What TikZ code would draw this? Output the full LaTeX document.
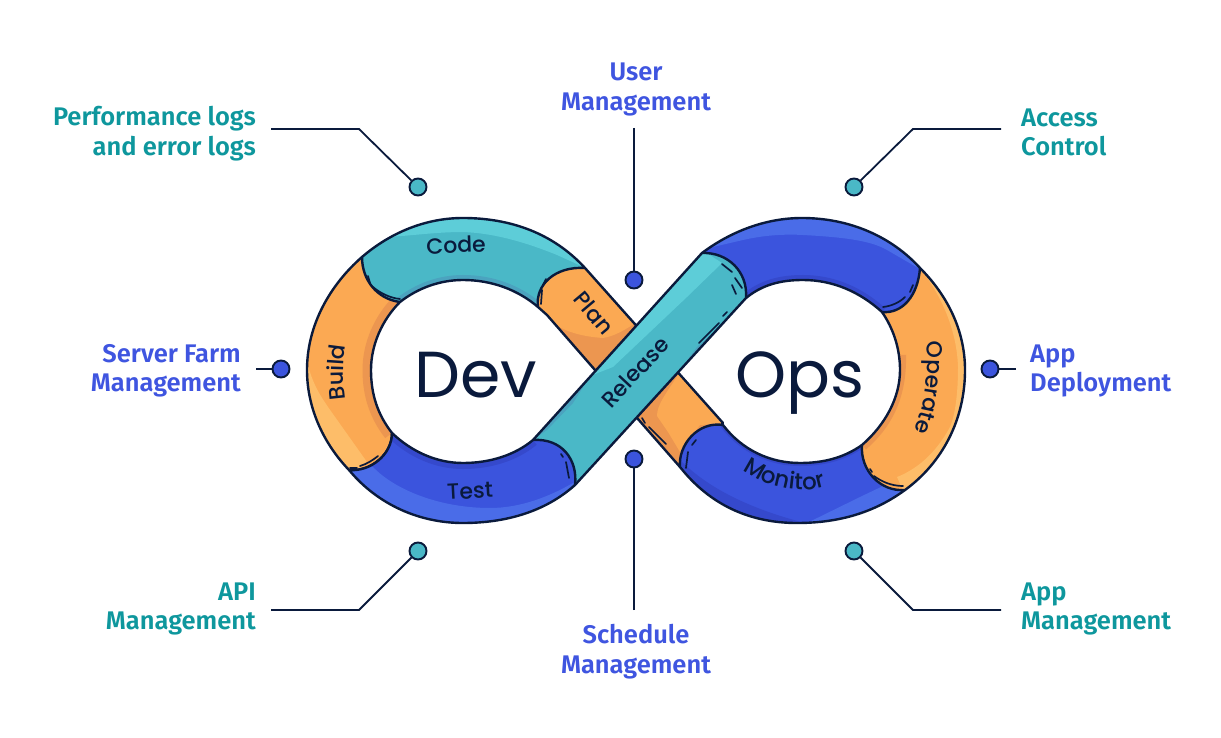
\documentclass[tikz,border=0pt]{standalone}
\usepackage{fontspec}
\usetikzlibrary{decorations.text}
\newfontfamily\labelfont{Fira Sans SemiBold}
\newfontfamily\innerfont{Poppins Medium}
\newfontfamily\bigfont{Poppins}
\definecolor{inkdark}{HTML}{0A1A3C}
\definecolor{labelteal}{HTML}{0E979D}
\definecolor{labelblue}{HTML}{3F55E0}
\definecolor{tealbase}{HTML}{4AB8C7}
\definecolor{teallight}{HTML}{5DCDD8}
\definecolor{tealdark}{HTML}{4BA3BF}
\definecolor{orangebase}{HTML}{FBA953}
\definecolor{orangelight}{HTML}{FDBD69}
\definecolor{orangedark}{HTML}{EC9650}
\definecolor{bluebase}{HTML}{3B54DD}
\definecolor{bluelight}{HTML}{4A6CE8}
\definecolor{bluedark}{HTML}{3549CC}
\newcommand{\codeinner}{(538,307) .. controls (518,290) and (492,280) .. (463,280) .. controls (440,280) and (418,288) .. (400,302)}
\newcommand{\codeseg}{(362,257) .. controls (390,233) and (425,218) .. (463,218) .. controls (510,218) and (553,233) .. (585,268) -- (538,307) .. controls (518,290) and (492,280) .. (463,280) .. controls (440,280) and (418,288) .. (400,302) .. controls (377,299) and (362,280) .. (362,257) -- cycle}
\newcommand{\buildseg}{(362,257) .. controls (330,285) and (307,325) .. (307,370) .. controls (307,410) and (325,445) .. (349,470) .. controls (370,472) and (392,455) .. (392,433) .. controls (378,415) and (371,395) .. (371,370) .. controls (371,345) and (382,320) .. (400,302) -- cycle}
\newcommand{\testseg}{(349,470) .. controls (370,472) and (392,455) .. (392,433) .. controls (412,452) and (437,463) .. (463,463) .. controls (490,463) and (515,455) .. (533,440) .. controls (562,438) and (578,460) .. (575,485) .. controls (545,512) and (505,523) .. (463,523) .. controls (420,523) and (378,505) .. (349,470) -- cycle}
\newcommand{\planseg}{(538,307) .. controls (535,285) and (555,266) .. (585,268) -- (723,423) -- (680,467) -- (595,370) -- (547,315) -- cycle}
\newcommand{\releaseseg}{(702,253) .. controls (728,252) and (748,272) .. (746,298) -- (575,485) -- (533,440) -- cycle}
\newcommand{\monitorseg}{(680,467) .. controls (678,445) and (698,421) .. (723,425) .. controls (742,450) and (770,463) .. (800,463) .. controls (825,463) and (845,457) .. (862,445) -- (905,490) .. controls (875,512) and (840,523) .. (797,523) .. controls (750,523) and (710,505) .. (680,467) -- cycle}
\newcommand{\operateseg}{(862,445) .. controls (860,470) and (880,492) .. (905,490) .. controls (942,463) and (965,420) .. (965,370) .. controls (965,330) and (947,295) .. (920,268) -- (882,312) .. controls (893,328) and (900,348) .. (900,370) .. controls (900,398) and (885,425) .. (862,445) -- cycle}
\newcommand{\opsseg}{(702,253) .. controls (730,232) and (765,218) .. (802,218) .. controls (850,218) and (892,237) .. (920,268) .. controls (918,295) and (903,314) .. (882,312) .. controls (860,292) and (833,280) .. (803,280) .. controls (780,280) and (762,285) .. (746,298) -- cycle}
\begin{document}
\begin{tikzpicture}[x=1pt,y=-1pt,
    outline/.style={draw=inkdark,line width=2.4pt,line join=round},
    mark line/.style={draw=inkdark,line width=1.7pt,line cap=round},
    leader/.style={draw=inkdark,line width=1.8pt},
    teal dot/.style={circle,draw=inkdark,line width=1.9pt,fill=tealbase,minimum size=17pt,inner sep=0pt},
    blue dot/.style={circle,draw=inkdark,line width=1.9pt,fill=bluebase,minimum size=17pt,inner sep=0pt},
    teal label/.style={text=labelteal,inner sep=0pt,font=\labelfont\fontsize{25.5}{29.5}\selectfont},
    blue label/.style={text=labelblue,inner sep=0pt,font=\labelfont\fontsize{25.5}{29.5}\selectfont},
    seg label/.style={text=inkdark,inner sep=0pt,font=\innerfont\fontsize{22}{24}\selectfont},
    big label/.style={text=inkdark,anchor=base,inner sep=0pt,font=\bigfont\fontsize{65}{70}\selectfont}]
    \useasboundingbox (0,0) rectangle (1221,738);

    \begin{scope}
        \clip \buildseg;
        \fill[orangebase] (290,240) rectangle (410,490);
        \draw[orangedark,line width=17pt] (400,302) .. controls (382,320) and (371,345) .. (371,370) .. controls (371,395) and (378,415) .. (392,433);
        \fill[orangelight] (307,362) .. controls (313,385) and (320,395) .. (328,407) -- (367,462) -- (345,480) -- (295,420) -- cycle;
    \end{scope}
    \draw[outline] \buildseg;
    \begin{scope}
        \clip \codeseg;
        \fill[tealbase] (350,210) rectangle (600,320);
        \fill[teallight] (386,237) .. controls (410,236) and (435,232) .. (463,232) .. controls (490,233) and (520,240) .. (557,255) -- (590,270) -- (590,210) -- (386,210) -- cycle;
        \draw[tealdark,line width=10pt] \codeinner;
    \end{scope}
    \draw[outline] \codeseg;
    \begin{scope}
        \clip \planseg;
        \fill[orangedark] (530,260) rectangle (730,470);
        \fill[orangebase] (530,307) .. controls (550,320) and (560,335) .. (603,338) .. controls (615,336) and (625,330) .. (640,320) -- (590,260) -- (530,260) -- cycle;
        \fill[orangebase] (680,372) -- (730,423) -- (700,425) -- (680,452) -- (668,432) -- (657,416) .. controls (657,405) and (665,395) .. (680,372) -- cycle;
    \end{scope}
    \draw[outline] \planseg;
    \begin{scope}
        \clip \monitorseg;
        \fill[bluebase] (670,415) rectangle (915,530);
        \fill[bluedark] (680,460) .. controls (700,480) and (735,505) .. (805,523) -- (790,540) -- (670,500) -- cycle;
        \fill[bluelight] (805,524) -- (860,497) -- (883,486) -- (910,485) -- (900,540) -- (805,540) -- cycle;
        \draw[bluedark,line width=6pt] (723,425) .. controls (742,450) and (770,463) .. (800,463) .. controls (825,463) and (845,457) .. (862,445);
    \end{scope}
    \draw[outline] \monitorseg;
    \begin{scope}
        \clip \operateseg;
        \fill[orangebase] (850,260) rectangle (975,500);
        \fill[orangelight] (920,268) .. controls (945,300) and (957,335) .. (958,367) .. controls (958,395) and (955,415) .. (950,427) .. controls (935,455) and (915,470) .. (897,477) -- (905,495) -- (990,500) -- (990,260) -- cycle;
        \draw[orangedark,line width=12pt] (900,355) .. controls (901,398) and (885,425) .. (862,445);
    \end{scope}
    \draw[outline] \operateseg;
    \begin{scope}
        \clip \opsseg;
        \fill[bluebase] (695,210) rectangle (930,320);
        \fill[bluelight] (700,250) -- (743,240) .. controls (765,235) and (785,234) .. (803,235) .. controls (840,237) and (870,240) .. (887,250) -- (925,272) -- (930,200) -- (700,200) -- cycle;
        \draw[bluedark,line width=10pt] (882,312) .. controls (860,292) and (833,280) .. (803,280) .. controls (780,280) and (762,285) .. (746,298);
    \end{scope}
    \draw[outline] \opsseg;
    \begin{scope}
        \clip \releaseseg;
        \fill[tealbase] (525,245) rectangle (750,490);
        \fill[teallight] (702,250) -- (722,263) -- (687,297) -- (613,367) -- (590,376) -- (585,360) -- (690,240) -- cycle;
        \fill[tealdark] (592,373) -- (573,403) -- (547,430) -- (530,442) -- (520,420) -- (585,360) -- cycle;
        \fill[tealdark] (680,370) -- (697,347) -- (730,317) -- (748,300) -- (760,320) -- (690,385) -- cycle;
    \end{scope}
    \draw[outline] \releaseseg;
    \begin{scope}
        \clip \testseg;
        \fill[bluebase] (340,425) rectangle (585,530);
        \fill[bluelight] (349,470) -- (373,467) .. controls (395,490) and (440,508) .. (490,508) .. controls (520,508) and (550,497) .. (578,480) -- (590,540) -- (340,540) -- cycle;
        \draw[bluedark,line width=12pt] (392,433) .. controls (412,452) and (437,463) .. (463,463) .. controls (490,463) and (515,455) .. (533,440);
    \end{scope}
    \draw[outline] \testseg;

    \draw[mark line] (368,276) -- (370,283);
    \draw[mark line] (373,287) .. controls (380,293) and (390,298) .. (400,299);
    \draw[mark line] (350,468) -- (357,468);
    \draw[mark line] (360,466) .. controls (367,464) and (373,460) .. (378,456);
    \draw[mark line] (546,279) -- (543,285);
    \draw[mark line] (542,290) -- (541,304);
    \draw[mark line] (561,454) -- (563,457);
    \draw[mark line] (566,462) -- (569,478);
    \draw[mark line] (722,264) -- (732,272);
    \draw[mark line] (735,278) -- (742,288);
    \draw[mark line] (732,285) -- (736,294);
    \draw[mark line] (699,343) -- (719,323);
    \draw[mark line] (723,316) -- (727,312);
    \draw[mark line] (883,307) .. controls (892,306) and (900,302) .. (905,297);
    \draw[mark line] (910,292) -- (913,285);
    \draw[mark line] (696,440) -- (692,445);
    \draw[mark line] (688,452) -- (686,468);
    \draw[mark line] (870,469) -- (872,472);
    \draw[mark line] (874,476) .. controls (882,482) and (892,486) .. (903,486);
    \draw[mark line] (642,418) -- (645,423);
    \draw[mark line] (649,427) -- (666,444);

    \node[big label] at (476,397) (dev) {Dev};
    \node[big label] at (800,397) (ops) {Ops};
    \node[seg label,rotate=2] at (456,245) (code) {Code};
    \node[seg label,rotate=3] at (470,491) (test) {Test};
    \node[seg label,rotate=-50] at (594,313) (plan) {Plan};
    \node[seg label,rotate=47] at (635,372) (release) {Release};
    \path[decorate,decoration={text along path,text color=inkdark,text align=center,text={|\innerfont\fontsize{22}{24}\selectfont|Build}}] (347,410) .. controls (342,385) and (342,360) .. (348,335);
    \path[decorate,decoration={text along path,text color=inkdark,text align=center,text={|\innerfont\fontsize{23}{24}\selectfont|Monitor}}] (733,463) .. controls (765,490) and (805,497) .. (837,482);
    \path[decorate,decoration={text along path,text color=inkdark,text align=center,text={|\innerfont\fontsize{22}{24}\selectfont|Operate}}] (925,335) .. controls (930,370) and (925,405) .. (912,438);

    \node[teal label,align=right,anchor=east] at (256,133.5) (perflogs) {Performance logs\\and error logs};
    \node[blue label,align=center] at (636,89.5) (usermgmt) {User\\Management};
    \node[teal label,align=left,anchor=west] at (1021,132.5) (access) {Access\\Control};
    \node[blue label,align=right,anchor=east] at (241,371) (serverfarm) {Server Farm\\Management};
    \node[blue label,align=left,anchor=west] at (1030,371) (deployment) {App\\Deployment};
    \node[teal label,align=right,anchor=east] at (256,609) (apimgmt) {API\\Management};
    \node[blue label,align=center] at (636,651.5) (schedule) {Schedule\\Management};
    \node[teal label,align=left,anchor=west] at (1021,609) (appmgmt) {App\\Management};

    \node[teal dot] at (418,187) (perfdot) {};
    \node[blue dot] at (634,280) (userdot) {};
    \node[teal dot] at (854,187) (accessdot) {};
    \node[blue dot] at (281,369) (serverdot) {};
    \node[blue dot] at (990,369) (deploydot) {};
    \node[teal dot] at (418,551) (apidot) {};
    \node[blue dot] at (634,459) (scheduledot) {};
    \node[teal dot] at (854,551) (appdot) {};

    \coordinate (perfstart) at (271,129);
    \coordinate (perfbend) at (359,129);
    \coordinate (userstart) at (634,128);
    \coordinate (accessstart) at (1001,129);
    \coordinate (accessbend) at (913,129);
    \coordinate (serverstart) at (256,369);
    \coordinate (deploystart) at (1016,369);
    \coordinate (apistart) at (271,610);
    \coordinate (apibend) at (359,610);
    \coordinate (schedulestart) at (634,610);
    \coordinate (appstart) at (1001,610);
    \coordinate (appbend) at (913,610);

    \draw[leader] (perfstart) -- (perfbend) -- (perfdot);
    \draw[leader] (userstart) -- (userdot);
    \draw[leader] (accessstart) -- (accessbend) -- (accessdot);
    \draw[leader] (serverstart) -- (serverdot);
    \draw[leader] (deploystart) -- (deploydot);
    \draw[leader] (apistart) -- (apibend) -- (apidot);
    \draw[leader] (schedulestart) -- (scheduledot);
    \draw[leader] (appstart) -- (appbend) -- (appdot);
\end{tikzpicture}
\end{document}
